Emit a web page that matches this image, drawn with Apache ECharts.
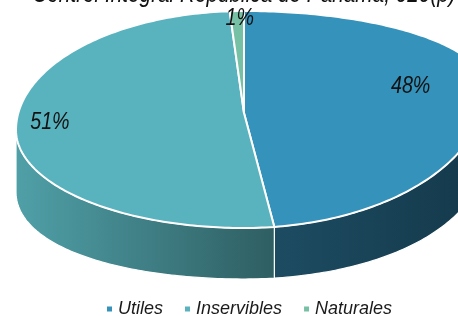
<!DOCTYPE html>
<html>
<head>
<meta charset="utf-8">
<script src="https://cdn.jsdelivr.net/npm/echarts@6/dist/echarts.min.js"></script>
<style>
  html, body { margin: 0; padding: 0; background: #fff; }
  #chart { width: 458px; height: 316px; }
</style>
</head>
<body>
<div id="chart"></div>
<script>
// datos del grafico
const categories = ["Utiles", "Inservibles", "Naturales"];
const values = [48, 51, 1];
const titleText = "Control Integral República de Panamá, 020(p)";

// colores (cara superior y costado)
const topColors = ["#3592ba", "#59b3be", "#76c0a5"];
const sideColors = [["#1d4c62", "#14384a"], ["#50a0a8", "#2e5e62"], ["#5e9c86", "#3f6f5e"]];

// geometria del disco en perspectiva (cuartos de elipse)
const geo = {
  cx: 244, top: 11, bottom: 228,
  ycL: 130, ycR: 88, rxL: 228, rxR: 242,
  centerY: 113, depth: 51, depthExtra: 11,
};
const labelRadius = [0.69, 0.855, 1.0];
const labelShift = [[0, -6], [0, -13], [3, 7]];

// fuente estrecha simulada con scaleX
const font = '"Liberation Sans", Arial, sans-serif';
const narrow = 0.82;

const total = values.reduce((a, b) => a + b, 0);
const starts = [];
let acc = 0;
values.forEach((v) => {
  starts.push((acc / total) * 360);
  acc += v;
});

// punto del borde: angulo en grados desde las 12, sentido horario
function edge(deg, lower) {
  const t = (deg * Math.PI) / 180;
  const u = Math.sin(t);
  const c = -Math.cos(t);
  const yc = u >= 0 ? geo.ycR : geo.ycL;
  const x = geo.cx + u * (u >= 0 ? geo.rxR : geo.rxL);
  let y = yc + c * (c >= 0 ? geo.bottom - yc : yc - geo.top);
  if (lower) y += geo.depth + geo.depthExtra * u * u;
  return [x, y];
}

function inner(deg, r) {
  const p = edge(deg, false);
  return [geo.cx + r * (p[0] - geo.cx), geo.centerY + r * (p[1] - geo.centerY)];
}

function arc(a0, a1, lower) {
  const pts = [];
  const n = Math.max(2, Math.ceil(Math.abs(a1 - a0)));
  for (let i = 0; i <= n; i++) pts.push(edge(a0 + ((a1 - a0) * i) / n, lower));
  return pts;
}

function renderSlice(params, api) {
  const i = params.dataIndex;
  const a0 = starts[i];
  const a1 = a0 + (api.value(0) / total) * 360;
  const children = [];

  // costado (solo la mitad frontal es visible)
  const s = Math.max(a0, 90);
  const e = Math.min(a1, 270);
  if (s < e) {
    children.push({
      type: "polygon",
      shape: { points: arc(s, e, false).concat(arc(e, s, true)) },
      style: {
        fill: new echarts.graphic.LinearGradient(0, 0, 1, 0, [
          { offset: 0, color: sideColors[i][0] },
          { offset: 1, color: sideColors[i][1] },
        ]),
        stroke: "#fff",
        lineWidth: 1.2,
      },
    });
  }

  // cara superior
  children.push({
    type: "polygon",
    shape: { points: [[geo.cx, geo.centerY]].concat(arc(a0, a1, false)) },
    style: { fill: topColors[i], stroke: "#fff", lineWidth: 2, lineJoin: "round" },
  });

  // etiqueta
  const mid = (a0 + a1) / 2;
  const p = inner(mid, labelRadius[i]);
  children.push({
    type: "text",
    z2: 10,
    x: p[0] + labelShift[i][0],
    y: p[1] + labelShift[i][1],
    scaleX: narrow,
    style: {
      text: Math.round((api.value(0) / total) * 100) + "%",
      font: "italic 24px " + font,
      fill: "#111",
      align: "center",
      verticalAlign: "middle",
      textAlign: "center",
      textVerticalAlign: "middle",
    },
  });

  return { type: "group", children: children };
}

const chart = echarts.init(document.getElementById("chart"));

chart.setOption({
  animation: false,
  color: topColors,
  graphic: [
    {
      type: "text",
      x: 244,
      y: -5,
      scaleX: 0.83,
      style: {
        text: titleText,
        font: "italic 25px " + font,
        fill: "#111",
        align: "center",
        verticalAlign: "middle",
        textAlign: "center",
        textVerticalAlign: "middle",
      },
    },
  ],
  legend: {
    data: categories,
    left: 102,
    top: 295,
    icon: "rect",
    itemWidth: 5,
    itemHeight: 5,
    itemGap: 22,
    textStyle: { fontFamily: font, fontStyle: "italic", fontSize: 18, color: "#1a1a1a", padding: [0, 0, 0, 1] },
  },
  series: [
    {
      // solo para la leyenda
      type: "pie",
      radius: [0, 0],
      center: [-50, -50],
      silent: true,
      label: { show: false },
      labelLine: { show: false },
      data: categories.map((c, i) => ({ name: c, value: values[i] })),
    },
    {
      type: "custom",
      name: "Control",
      coordinateSystem: "none",
      renderItem: renderSlice,
      data: values.map((v) => [v]),
    },
  ],
});
</script>
</body>
</html>
